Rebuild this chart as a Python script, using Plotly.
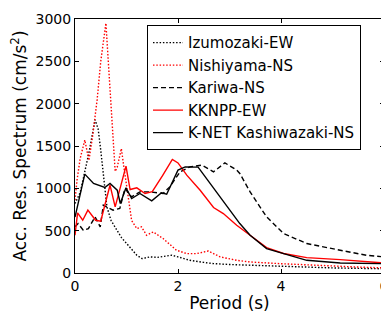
import plotly.graph_objects as go

# Izumozaki-EW (black dotted)
izu_x = [0, 0.1, 0.17, 0.28, 0.39, 0.45, 0.5, 0.56, 0.62, 0.7, 0.81, 0.9, 1.0, 1.1, 1.2, 1.3, 1.46, 1.6, 1.88, 2.0, 2.23, 2.5, 2.69, 3.0, 3.4, 4.0, 4.5, 5.0, 5.5, 6.0]
izu_y = [820, 950, 1140, 1450, 1810, 1700, 1450, 1140, 780, 620, 505, 420, 350, 280, 210, 170, 190, 185, 210, 190, 150, 125, 111, 100, 90, 80, 70, 60, 55, 50]

# Nishiyama-NS (red dotted)
nis_x = [0, 0.04, 0.1, 0.19, 0.27, 0.35, 0.43, 0.5, 0.6, 0.69, 0.78, 0.82, 0.9, 0.94, 1.03, 1.1, 1.2, 1.29, 1.39, 1.52, 1.71, 1.85, 1.97, 2.17, 2.36, 2.59, 2.82, 3.14, 3.4, 4.0, 4.5, 5.0, 5.5, 6.0]
nis_y = [860, 1100, 1350, 1570, 1330, 1650, 2050, 2500, 2950, 2050, 1200, 1250, 1470, 1290, 940, 620, 525, 545, 446, 485, 407, 330, 269, 229, 229, 260, 190, 150, 130, 110, 95, 80, 70, 60]

# Kariwa-NS (black dashed)
kar_x = [0, 0.06, 0.16, 0.26, 0.39, 0.49, 0.55, 0.74, 0.87, 0.97, 1.1, 1.26, 1.46, 1.71, 1.84, 2.04, 2.23, 2.46, 2.69, 2.91, 3.14, 3.2, 3.4, 3.72, 4.05, 4.5, 5.15, 5.66, 6.0]
kar_y = [545, 584, 505, 525, 663, 545, 801, 742, 762, 998, 899, 958, 958, 939, 1017, 1195, 1254, 1274, 1195, 1301, 1215, 1176, 958, 663, 466, 348, 269, 209, 190]

# KKNPP-EW (red solid)
kk_x = [0, 0.05, 0.15, 0.25, 0.4, 0.5, 0.6, 0.68, 0.78, 0.88, 0.99, 1.07, 1.2, 1.36, 1.5, 1.7, 1.89, 2.0, 2.17, 2.43, 2.69, 2.88, 3.14, 3.4, 3.72, 4.05, 4.5, 5.15, 6.0]
kk_y = [446, 710, 623, 742, 623, 612, 850, 1037, 781, 1000, 1262, 986, 1006, 939, 960, 1150, 1341, 1300, 1156, 978, 774, 702, 564, 446, 300, 230, 182, 158, 118]

# K-NET Kashiwazaki-NS (black solid)
kn_x = [0, 0.19, 0.36, 0.58, 0.68, 0.82, 0.88, 0.99, 1.1, 1.26, 1.49, 1.68, 1.78, 2.0, 2.14, 2.39, 3.2, 3.4, 3.72, 4.05, 4.5, 5.15, 6.0]
kn_y = [660, 1168, 1057, 1010, 1057, 978, 821, 1006, 880, 939, 852, 947, 931, 1215, 1254, 1250, 584, 446, 288, 229, 150, 118, 110]

series = [
    ("Izumozaki-EW", izu_x, izu_y, "black", "1.5px,1.8px"),
    ("Nishiyama-NS", nis_x, nis_y, "#ff0000", "1.5px,1.8px"),
    ("Kariwa-NS", kar_x, kar_y, "black", "5px,3px"),
    ("KKNPP-EW", kk_x, kk_y, "#ff0000", "solid"),
    ("K-NET Kashiwazaki-NS", kn_x, kn_y, "black", "solid"),
]

fig = go.Figure()
for name, xs, ys, col, dash in series:
    fig.add_trace(go.Scatter(x=xs, y=ys, mode="lines", name=name,
                             line=dict(color=col, dash=dash, width=1.4)))

font = dict(family="DejaVu Sans", size=14, color="black")
# page body has an 8px default margin, so the figure is sized to fit the window
fig.update_layout(
    width=381, height=306,
    margin=dict(l=67, r=5, t=11, b=41, autoexpand=False),
    paper_bgcolor="white", plot_bgcolor="white",
    font=font,
    showlegend=True,
    legend=dict(x=0.233, y=0.975, xanchor="left", yanchor="top",
                bgcolor="white", bordercolor="black", borderwidth=1,
                font=dict(family="DejaVu Sans", size=15),
                tracegroupgap=0, itemwidth=30),
    xaxis=dict(range=[0, 6], dtick=2, showgrid=False, zeroline=False,
               automargin=False,
               showline=True, linecolor="black", linewidth=1, mirror="ticks",
               ticks="inside", ticklen=4, tickcolor="black",
               title=dict(text="Period (s)", standoff=4)),
    yaxis=dict(range=[0, 3000], dtick=500, showgrid=False, zeroline=False,
               automargin=False,
               showline=True, linecolor="black", linewidth=1, mirror="ticks",
               ticks="inside", ticklen=4, tickcolor="black",
               title=dict(text="Acc. Res. Spectrum (cm/s<sup>2</sup>)", standoff=4)),
)

fig.write_html("out.html")
